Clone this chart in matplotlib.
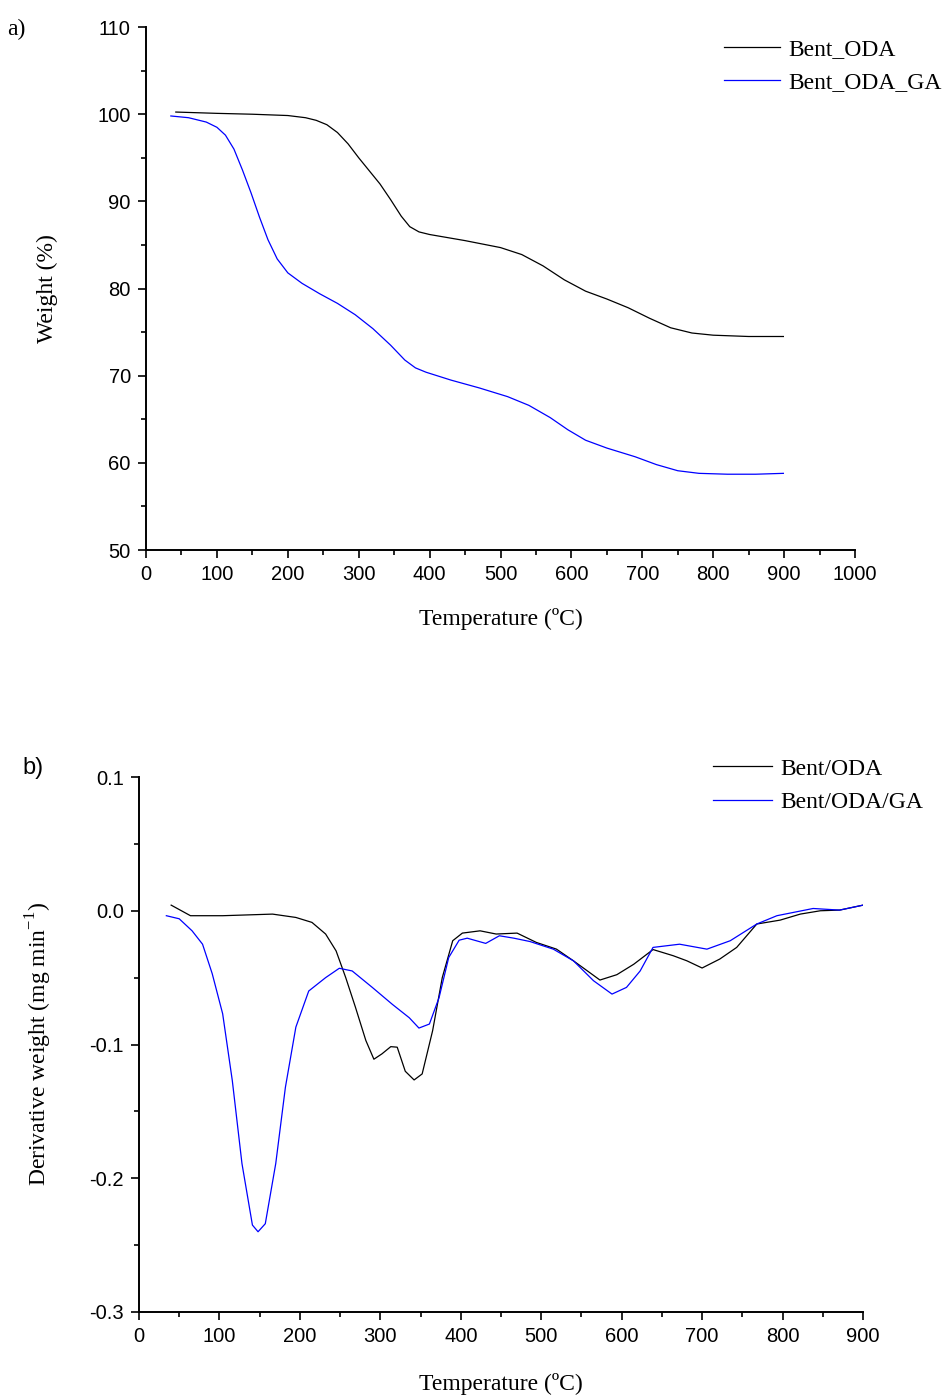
import numpy as np
import matplotlib.pyplot as plt
from matplotlib.ticker import MultipleLocator

# TGA curves (weight %)
t_oda = [42, 100, 150, 200, 225, 240, 255, 270, 285, 300, 315, 330, 345, 360, 372,
         385, 400, 450, 500, 530, 560, 590, 620, 650, 680, 710, 740, 770, 800, 850, 899]
w_oda = [100.25, 100.1, 100.0, 99.85, 99.6, 99.3, 98.8, 97.9, 96.6, 95.0, 93.5, 92.0,
         90.2, 88.3, 87.1, 86.5, 86.2, 85.5, 84.7, 83.9, 82.6, 81.0, 79.7, 78.8,
         77.8, 76.6, 75.5, 74.9, 74.65, 74.5, 74.5]

t_ga = [35, 60, 85, 100, 112, 124, 136, 148, 160, 172, 185, 200, 220, 245, 270,
        295, 320, 345, 365, 380, 395, 430, 470, 510, 540, 570, 595, 620, 650, 690,
        720, 750, 780, 820, 860, 899]
w_ga = [99.8, 99.6, 99.1, 98.5, 97.6, 96.0, 93.6, 91.0, 88.2, 85.6, 83.4, 81.8,
        80.6, 79.4, 78.3, 77.0, 75.4, 73.5, 71.8, 70.9, 70.4, 69.5, 68.6, 67.6,
        66.6, 65.2, 63.8, 62.6, 61.7, 60.7, 59.8, 59.1, 58.8, 58.7, 58.7, 58.8]

# DTG curves (mg/min)
dt_oda = [40, 64, 104, 166, 195, 215, 232, 245, 257, 269, 282, 292, 302, 313, 321,
          331, 342, 352, 365, 377, 390, 402, 424, 444, 470, 494, 519, 540, 557,
          573, 594, 615, 639, 664, 681, 700, 722, 743, 768, 797, 822, 847, 871, 900]
d_oda = [0.0042, -0.0037, -0.0037, -0.0025, -0.005, -0.0087, -0.0174, -0.030,
         -0.050, -0.072, -0.097, -0.111, -0.107, -0.1016, -0.102, -0.120, -0.1265,
         -0.122, -0.0897, -0.050, -0.0224, -0.0167, -0.015, -0.0174, -0.0167,
         -0.0237, -0.0287, -0.0374, -0.0448, -0.0518, -0.0478, -0.040, -0.029,
         -0.0336, -0.0374, -0.0428, -0.0361, -0.0274, -0.0099, -0.007, -0.0025,
         0.0, 0.0005, 0.0042]

dt_ga = [34, 50, 66, 79, 91, 104, 116, 128, 141, 148, 157, 170, 182, 195, 211,
         232, 249, 265, 290, 315, 336, 348, 361, 373, 385, 398, 408, 431, 448,
         466, 486, 515, 540, 565, 588, 606, 623, 639, 672, 706, 735, 768, 793,
         838, 871, 900]
d_ga = [-0.0037, -0.006, -0.015, -0.025, -0.047, -0.077, -0.127, -0.189, -0.235,
        -0.240, -0.234, -0.189, -0.132, -0.087, -0.060, -0.050, -0.043, -0.045,
        -0.0573, -0.070, -0.080, -0.0877, -0.0847, -0.065, -0.035, -0.022,
        -0.0205, -0.0244, -0.0187, -0.0205, -0.023, -0.0287, -0.0374, -0.0523,
        -0.0623, -0.0573, -0.045, -0.0274, -0.025, -0.0287, -0.0224, -0.0099,
        -0.0037, 0.0017, 0.0005, 0.0042]

serif = 'Liberation Serif'
sans = 'Liberation Sans'
plt.rcParams['font.family'] = sans
plt.rcParams['mathtext.fontset'] = 'custom'
plt.rcParams['mathtext.rm'] = serif

fig = plt.figure(figsize=(9.52, 13.95), dpi=100)
ax1 = fig.add_axes([0.1534, 0.6057, 0.7447, 0.3749])
ax2 = fig.add_axes([0.146, 0.0595, 0.7605, 0.3835])


def style(ax):
    for s in ['top', 'right']:
        ax.spines[s].set_visible(False)
    for s in ['left', 'bottom']:
        ax.spines[s].set_linewidth(1.4)
    ax.tick_params(which='major', direction='out', length=6, width=1.2,
                   labelsize=14.5, pad=5)
    ax.tick_params(which='minor', direction='out', length=3.5, width=1.2)


ax1.plot(t_oda, w_oda, color='black', lw=0.9, label='Bent_ODA')
ax1.plot(t_ga, w_ga, color='#0000ff', lw=0.9, label='Bent_ODA_GA')
ax1.set_xlim(0, 1000)
ax1.set_ylim(50, 110)
ax1.xaxis.set_major_locator(MultipleLocator(100))
ax1.xaxis.set_minor_locator(MultipleLocator(50))
ax1.yaxis.set_major_locator(MultipleLocator(10))
ax1.yaxis.set_minor_locator(MultipleLocator(5))
style(ax1)
ax1.set_xlabel('Temperature (ºC)', family=serif, fontsize=17, labelpad=17)
ax1.set_ylabel('Weight (%)', family=serif, fontsize=17, labelpad=28)
ax1.legend(loc='upper left', bbox_to_anchor=(0.760, 0.9725), bbox_transform=fig.transFigure,
           frameon=False, prop={'family': serif, 'size': 17}, handlelength=2.4,
           handletextpad=0.35, labelspacing=0.5, borderpad=0, borderaxespad=0)

ax2.plot(dt_oda, d_oda, color='black', lw=0.9, label='Bent/ODA')
ax2.plot(dt_ga, d_ga, color='#0000ff', lw=0.9, label='Bent/ODA/GA')
ax2.set_xlim(0, 900)
ax2.set_ylim(-0.3, 0.1)
ax2.xaxis.set_major_locator(MultipleLocator(100))
ax2.xaxis.set_minor_locator(MultipleLocator(50))
ax2.yaxis.set_major_locator(MultipleLocator(0.1))
ax2.yaxis.set_minor_locator(MultipleLocator(0.05))
ax2.yaxis.set_major_formatter(plt.FuncFormatter(lambda v, p: '%.1f' % v if abs(v) > 1e-9 else '0.0'))
style(ax2)
ax2.set_xlabel('Temperature (ºC)', family=serif, fontsize=17, labelpad=19)
ax2.set_ylabel('Derivative weight (mg min$^{\\mathregular{-1}}$)', family=serif,
               fontsize=17, labelpad=25)
ax2.legend(loc='upper left', bbox_to_anchor=(0.749, 0.4565), bbox_transform=fig.transFigure,
           frameon=False, prop={'family': serif, 'size': 17}, handlelength=2.5,
           handletextpad=0.35, labelspacing=0.5, borderpad=0, borderaxespad=0)

fig.text(0.008, 0.975, 'a)', family=serif, fontsize=17)
fig.text(0.024, 0.445, 'b)', family=sans, fontsize=17)

fig.savefig('out.png', dpi=100)
